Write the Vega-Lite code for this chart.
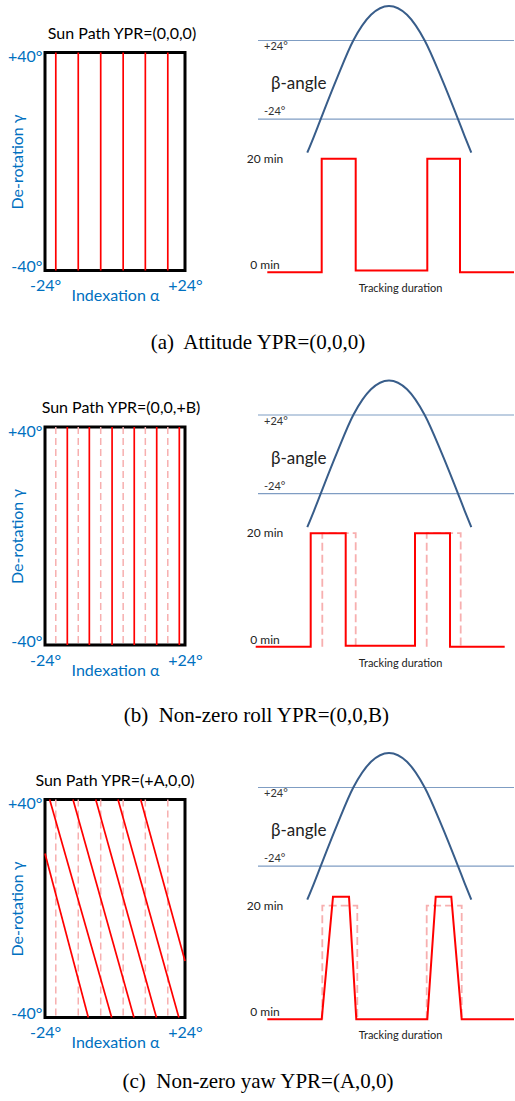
{
  "$schema": "https://vega.github.io/schema/vega-lite/v6.json",
  "padding": {"left": 6, "top": 1.5, "right": 0, "bottom": 0},
  "spacing": 22.5,
  "config": {
    "view": {"stroke": null},
    "font": "Lato",
    "title": {"font": "Lato", "fontSize": 16, "fontWeight": "normal", "color": "#000000", "offset": 7},
    "text": {"font": "Lato"}
  },
  "datasets": {
    "beta": [
      {"t": 49.3, "b": -44.5}, {"t": 56, "b": -34.5}, {"t": 62.7, "b": -24}, {"t": 79, "b": 1},
      {"t": 95.3, "b": 24}, {"t": 113, "b": 39.7}, {"t": 131, "b": 45.1}, {"t": 149, "b": 39.7},
      {"t": 166.7, "b": 24}, {"t": 183.5, "b": 1}, {"t": 200, "b": -24}, {"t": 206.7, "b": -34.5}, {"t": 213.3, "b": -44.5}
    ],
    "betaLevels": [{"t": 6, "b": 24, "label": "+24°"}, {"t": 6, "b": -24, "label": "-24°"}],
    "betaName": [{"t": 13, "b": -2.7, "label": "β-angle"}],
    "minLabels": [{"t": 7, "m": 20, "label": "20 min"}, {"t": 7, "m": 0, "label": "0 min"}],
    "orig": [{"a1": -20.3}, {"a1": -12.6}, {"a1": -4.9}, {"a1": 2.8}, {"a1": 10.4}, {"a1": 18.1}],
    "pathA": [
      {"a1": -20.3, "g1": -40, "a2": -20.3, "g2": 40}, {"a1": -12.6, "g1": -40, "a2": -12.6, "g2": 40},
      {"a1": -4.9, "g1": -40, "a2": -4.9, "g2": 40}, {"a1": 2.8, "g1": -40, "a2": 2.8, "g2": 40},
      {"a1": 10.4, "g1": -40, "a2": 10.4, "g2": 40}, {"a1": 18.1, "g1": -40, "a2": 18.1, "g2": 40}
    ],
    "pathB": [
      {"a1": -16.35, "g1": -40, "a2": -16.35, "g2": 40}, {"a1": -8.8, "g1": -40, "a2": -8.8, "g2": 40},
      {"a1": -1.0, "g1": -40, "a2": -1.0, "g2": 40}, {"a1": 6.6, "g1": -40, "a2": 6.6, "g2": 40},
      {"a1": 14.3, "g1": -40, "a2": 14.3, "g2": 40}, {"a1": 22.05, "g1": -40, "a2": 22.05, "g2": 40}
    ],
    "pathC": [
      {"a1": -24, "g1": 20.2, "a2": -9.15, "g2": -40}, {"a1": -22.4, "g1": 40, "a2": -1.14, "g2": -40},
      {"a1": -14.4, "g1": 40, "a2": 6.5, "g2": -40}, {"a1": -6.6, "g1": 40, "a2": 14.2, "g2": -40},
      {"a1": 1.03, "g1": 40, "a2": 21.9, "g2": -40}, {"a1": 8.8, "g1": 40, "a2": 24, "g2": -19.3}
    ],
    "trackA": [
      {"i": 0, "t": 9.3, "m": 0}, {"i": 1, "t": 63.7, "m": 0}, {"i": 2, "t": 63.7, "m": 20}, {"i": 3, "t": 97.7, "m": 20},
      {"i": 4, "t": 97.7, "m": 0.3}, {"i": 5, "t": 169.3, "m": 0.3}, {"i": 6, "t": 169.3, "m": 20}, {"i": 7, "t": 202, "m": 20},
      {"i": 8, "t": 202, "m": 0}, {"i": 9, "t": 256, "m": 0}
    ],
    "trackB": [
      {"i": 0, "t": -2.3, "m": 0}, {"i": 1, "t": 52.7, "m": 0}, {"i": 2, "t": 52.7, "m": 20}, {"i": 3, "t": 87.7, "m": 20},
      {"i": 4, "t": 87.7, "m": 0.2}, {"i": 5, "t": 157, "m": 0.2}, {"i": 6, "t": 157, "m": 20}, {"i": 7, "t": 192, "m": 20},
      {"i": 8, "t": 192, "m": 0}, {"i": 9, "t": 246.7, "m": 0}
    ],
    "dashB": [
      {"seg": 1, "i": 0, "t": 64.3, "m": 0}, {"seg": 1, "i": 1, "t": 64.3, "m": 20}, {"seg": 1, "i": 2, "t": 97.7, "m": 20}, {"seg": 1, "i": 3, "t": 97.7, "m": 0},
      {"seg": 2, "i": 0, "t": 168.7, "m": 0}, {"seg": 2, "i": 1, "t": 168.7, "m": 20}, {"seg": 2, "i": 2, "t": 202.7, "m": 20}, {"seg": 2, "i": 3, "t": 202.7, "m": 0}
    ],
    "trackC": [
      {"i": 0, "t": 9.3, "m": 0}, {"i": 1, "t": 63.7, "m": 0}, {"i": 2, "t": 75, "m": 21.6}, {"i": 3, "t": 91, "m": 21.6},
      {"i": 4, "t": 98.3, "m": 0}, {"i": 5, "t": 169.3, "m": 0}, {"i": 6, "t": 177.7, "m": 21.6}, {"i": 7, "t": 193.3, "m": 21.6},
      {"i": 8, "t": 203.7, "m": 0}, {"i": 9, "t": 256, "m": 0}
    ],
    "dashC": [
      {"seg": 1, "i": 0, "t": 64.3, "m": 0}, {"seg": 1, "i": 1, "t": 64.3, "m": 20}, {"seg": 1, "i": 2, "t": 99.3, "m": 20}, {"seg": 1, "i": 3, "t": 99.3, "m": 0},
      {"seg": 2, "i": 0, "t": 168.7, "m": 0}, {"seg": 2, "i": 1, "t": 168.7, "m": 20}, {"seg": 2, "i": 2, "t": 203.7, "m": 20}, {"seg": 2, "i": 3, "t": 203.7, "m": 0}
    ]
  },
  "vconcat": [
    {
      "hconcat": [
        {
          "width": 140, "height": 218,
          "view": {"stroke": "#000000", "strokeWidth": 3},
          "title": {"text": "Sun Path YPR=(0,0,0)", "dx": 7},
          "layer": [
            {
              "data": {"name": "pathA"},
              "mark": {"type": "rule", "color": "#FF0000", "strokeWidth": 1.7},
              "encoding": {
                "x": {"field": "a1", "type": "quantitative", "scale": {"domain": [-24, 24], "nice": false, "zero": false},
                  "axis": {"values": [-24, 24], "labelExpr": "datum.value > 0 ? '+24°' : '-24°'", "labelFlush": false, "labelPadding": 7, "labelFontSize": 16, "labelColor": "#0070C0", "labelFont": "Lato", "labelOverlap": false, "title": "Indexation α", "titleFontSize": 16, "titleFont": "Lato", "titleFontWeight": "normal", "titleColor": "#0070C0", "titlePadding": -6, "domain": false, "ticks": false, "grid": false}},
                "y": {"field": "g1", "type": "quantitative", "scale": {"domain": [-40, 40], "nice": false, "zero": false},
                  "axis": {"values": [-40, 40], "labelExpr": "datum.value > 0 ? '+40°' : '-40°'", "labelFlush": true, "labelFlushOffset": 4, "labelPadding": 3, "labelFontSize": 16, "labelColor": "#0070C0", "labelFont": "Lato", "labelOverlap": false, "title": "De-rotation γ", "titleFontSize": 16, "titleFont": "Lato", "titleFontWeight": "normal", "titleColor": "#0070C0", "titlePadding": -18, "domain": false, "ticks": false, "grid": false}},
                "x2": {"field": "a2"},
                "y2": {"field": "g2"}
              }
            }
          ]
        },
        {
          "width": 256, "height": 218,
          "resolve": {"scale": {"y": "independent"}},
          "layer": [
            {"data": {"name": "betaLevels"}, "mark": {"type": "rule", "color": "#7F9DC3", "strokeWidth": 1.2},
              "encoding": {"y": {"field": "b", "type": "quantitative", "scale": {"domain": [-116.46, 16.67], "nice": false, "zero": false}, "axis": null}}},
            {"data": {"name": "betaLevels"}, "transform": [{"filter": "datum.b > 0"}],
              "mark": {"type": "text", "align": "left", "baseline": "top", "dy": 1, "fontSize": 11, "color": "#333333"},
              "encoding": {"x": {"field": "t", "type": "quantitative", "scale": {"domain": [0, 256], "nice": false, "zero": false}, "axis": {"title": "Tracking duration", "titleX": 142, "titlePadding": 12, "titleFontSize": 11, "titleFont": "Lato", "titleFontWeight": "normal", "titleColor": "#222222", "domain": false, "ticks": false, "labels": false, "grid": false}},
                "y": {"field": "b", "type": "quantitative", "scale": {"domain": [-116.46, 16.67], "nice": false, "zero": false}, "axis": null}, "text": {"field": "label"}}},
            {"data": {"name": "betaLevels"}, "transform": [{"filter": "datum.b < 0"}],
              "mark": {"type": "text", "align": "left", "baseline": "bottom", "dy": -2, "fontSize": 11, "color": "#333333"},
              "encoding": {"x": {"field": "t", "type": "quantitative", "scale": {"domain": [0, 256], "nice": false, "zero": false}, "axis": {"title": "Tracking duration", "titleX": 142, "titlePadding": 12, "titleFontSize": 11, "titleFont": "Lato", "titleFontWeight": "normal", "titleColor": "#222222", "domain": false, "ticks": false, "labels": false, "grid": false}},
                "y": {"field": "b", "type": "quantitative", "scale": {"domain": [-116.46, 16.67], "nice": false, "zero": false}, "axis": null}, "text": {"field": "label"}}},
            {"data": {"name": "betaName"},
              "mark": {"type": "text", "align": "left", "baseline": "middle", "fontSize": 17, "color": "#222222"},
              "encoding": {"x": {"field": "t", "type": "quantitative", "scale": {"domain": [0, 256], "nice": false, "zero": false}, "axis": {"title": "Tracking duration", "titleX": 142, "titlePadding": 12, "titleFontSize": 11, "titleFont": "Lato", "titleFontWeight": "normal", "titleColor": "#222222", "domain": false, "ticks": false, "labels": false, "grid": false}},
                "y": {"field": "b", "type": "quantitative", "scale": {"domain": [-116.46, 16.67], "nice": false, "zero": false}, "axis": null}, "text": {"field": "label"}}},
            {"data": {"name": "beta"},
              "mark": {"type": "line", "color": "#385D8A", "strokeWidth": 2, "interpolate": "monotone"},
              "encoding": {"x": {"field": "t", "type": "quantitative", "scale": {"domain": [0, 256], "nice": false, "zero": false}, "axis": {"title": "Tracking duration", "titleX": 142, "titlePadding": 12, "titleFontSize": 11, "titleFont": "Lato", "titleFontWeight": "normal", "titleColor": "#222222", "domain": false, "ticks": false, "labels": false, "grid": false}},
                "y": {"field": "b", "type": "quantitative", "scale": {"domain": [-116.46, 16.67], "nice": false, "zero": false}, "axis": null}}},
            {"data": {"name": "trackA"},
              "mark": {"type": "line", "color": "#FF0000", "strokeWidth": 2},
              "encoding": {"x": {"field": "t", "type": "quantitative", "scale": {"domain": [0, 256], "nice": false, "zero": false}, "axis": {"title": "Tracking duration", "titleX": 142, "titlePadding": 12, "titleFontSize": 11, "titleFont": "Lato", "titleFontWeight": "normal", "titleColor": "#222222", "domain": false, "ticks": false, "labels": false, "grid": false}},
                "y": {"field": "m", "type": "quantitative", "scale": {"domain": [0.32, 38.7], "nice": false, "zero": false}, "axis": null},
                "order": {"field": "i", "type": "quantitative"}}},
            {"data": {"name": "minLabels"}, "transform": [{"filter": "datum.m > 0"}],
              "mark": {"type": "text", "align": "center", "baseline": "middle", "fontSize": 12, "color": "#222222"},
              "encoding": {"x": {"field": "t", "type": "quantitative", "scale": {"domain": [0, 256], "nice": false, "zero": false}, "axis": {"title": "Tracking duration", "titleX": 142, "titlePadding": 12, "titleFontSize": 11, "titleFont": "Lato", "titleFontWeight": "normal", "titleColor": "#222222", "domain": false, "ticks": false, "labels": false, "grid": false}},
                "y": {"field": "m", "type": "quantitative", "scale": {"domain": [0.32, 38.7], "nice": false, "zero": false}, "axis": null}, "text": {"field": "label"}}},
            {"data": {"name": "minLabels"}, "transform": [{"filter": "datum.m == 0"}],
              "mark": {"type": "text", "align": "center", "baseline": "alphabetic", "dy": -3, "fontSize": 12, "color": "#222222"},
              "encoding": {"x": {"field": "t", "type": "quantitative", "scale": {"domain": [0, 256], "nice": false, "zero": false}, "axis": {"title": "Tracking duration", "titleX": 142, "titlePadding": 12, "titleFontSize": 11, "titleFont": "Lato", "titleFontWeight": "normal", "titleColor": "#222222", "domain": false, "ticks": false, "labels": false, "grid": false}},
                "y": {"field": "m", "type": "quantitative", "scale": {"domain": [0.32, 38.7], "nice": false, "zero": false}, "axis": null}, "text": {"field": "label"}}}
          ]
        }
      ],
      "spacing": 73,
      "bounds": "flush",
      "title": {"text": "(a)\u00a0 Attitude YPR=(0,0,0)", "orient": "bottom", "anchor": "middle", "font": "Liberation Serif", "fontSize": 21, "fontWeight": "normal", "color": "#000000", "offset": 27, "dx": -4}
    },
    {
      "hconcat": [
        {
          "width": 140, "height": 218,
          "view": {"stroke": "#000000", "strokeWidth": 3},
          "title": {"text": "Sun Path YPR=(0,0,+B)", "dx": 6},
          "layer": [
            {
              "data": {"name": "orig"},
              "mark": {"type": "rule", "color": "#F7AFAF", "strokeWidth": 1.5, "strokeDash": [7, 4]},
              "encoding": {
                "x": {"field": "a1", "type": "quantitative", "scale": {"domain": [-24, 24], "nice": false, "zero": false},
                  "axis": {"values": [-24, 24], "labelExpr": "datum.value > 0 ? '+24°' : '-24°'", "labelFlush": false, "labelPadding": 7, "labelFontSize": 16, "labelColor": "#0070C0", "labelFont": "Lato", "labelOverlap": false, "title": "Indexation α", "titleFontSize": 16, "titleFont": "Lato", "titleFontWeight": "normal", "titleColor": "#0070C0", "titlePadding": -6, "domain": false, "ticks": false, "grid": false}}
              }
            },
            {
              "data": {"name": "pathB"},
              "mark": {"type": "rule", "color": "#FF0000", "strokeWidth": 1.7},
              "encoding": {
                "x": {"field": "a1", "type": "quantitative", "scale": {"domain": [-24, 24], "nice": false, "zero": false},
                  "axis": {"values": [-24, 24], "labelExpr": "datum.value > 0 ? '+24°' : '-24°'", "labelFlush": false, "labelPadding": 7, "labelFontSize": 16, "labelColor": "#0070C0", "labelFont": "Lato", "labelOverlap": false, "title": "Indexation α", "titleFontSize": 16, "titleFont": "Lato", "titleFontWeight": "normal", "titleColor": "#0070C0", "titlePadding": -6, "domain": false, "ticks": false, "grid": false}},
                "y": {"field": "g1", "type": "quantitative", "scale": {"domain": [-40, 40], "nice": false, "zero": false},
                  "axis": {"values": [-40, 40], "labelExpr": "datum.value > 0 ? '+40°' : '-40°'", "labelFlush": true, "labelFlushOffset": 4, "labelPadding": 3, "labelFontSize": 16, "labelColor": "#0070C0", "labelFont": "Lato", "labelOverlap": false, "title": "De-rotation γ", "titleFontSize": 16, "titleFont": "Lato", "titleFontWeight": "normal", "titleColor": "#0070C0", "titlePadding": -18, "domain": false, "ticks": false, "grid": false}},
                "x2": {"field": "a2"},
                "y2": {"field": "g2"}
              }
            }
          ]
        },
        {
          "width": 256, "height": 218,
          "resolve": {"scale": {"y": "independent"}},
          "layer": [
            {"data": {"name": "betaLevels"}, "mark": {"type": "rule", "color": "#7F9DC3", "strokeWidth": 1.2},
              "encoding": {"y": {"field": "b", "type": "quantitative", "scale": {"domain": [-116.46, 16.67], "nice": false, "zero": false}, "axis": null}}},
            {"data": {"name": "betaLevels"}, "transform": [{"filter": "datum.b > 0"}],
              "mark": {"type": "text", "align": "left", "baseline": "top", "dy": 1, "fontSize": 11, "color": "#333333"},
              "encoding": {"x": {"field": "t", "type": "quantitative", "scale": {"domain": [0, 256], "nice": false, "zero": false}, "axis": {"title": "Tracking duration", "titleX": 142, "titlePadding": 12, "titleFontSize": 11, "titleFont": "Lato", "titleFontWeight": "normal", "titleColor": "#222222", "domain": false, "ticks": false, "labels": false, "grid": false}},
                "y": {"field": "b", "type": "quantitative", "scale": {"domain": [-116.46, 16.67], "nice": false, "zero": false}, "axis": null}, "text": {"field": "label"}}},
            {"data": {"name": "betaLevels"}, "transform": [{"filter": "datum.b < 0"}],
              "mark": {"type": "text", "align": "left", "baseline": "bottom", "dy": -2, "fontSize": 11, "color": "#333333"},
              "encoding": {"x": {"field": "t", "type": "quantitative", "scale": {"domain": [0, 256], "nice": false, "zero": false}, "axis": {"title": "Tracking duration", "titleX": 142, "titlePadding": 12, "titleFontSize": 11, "titleFont": "Lato", "titleFontWeight": "normal", "titleColor": "#222222", "domain": false, "ticks": false, "labels": false, "grid": false}},
                "y": {"field": "b", "type": "quantitative", "scale": {"domain": [-116.46, 16.67], "nice": false, "zero": false}, "axis": null}, "text": {"field": "label"}}},
            {"data": {"name": "betaName"},
              "mark": {"type": "text", "align": "left", "baseline": "middle", "fontSize": 17, "color": "#222222"},
              "encoding": {"x": {"field": "t", "type": "quantitative", "scale": {"domain": [0, 256], "nice": false, "zero": false}, "axis": {"title": "Tracking duration", "titleX": 142, "titlePadding": 12, "titleFontSize": 11, "titleFont": "Lato", "titleFontWeight": "normal", "titleColor": "#222222", "domain": false, "ticks": false, "labels": false, "grid": false}},
                "y": {"field": "b", "type": "quantitative", "scale": {"domain": [-116.46, 16.67], "nice": false, "zero": false}, "axis": null}, "text": {"field": "label"}}},
            {"data": {"name": "beta"},
              "mark": {"type": "line", "color": "#385D8A", "strokeWidth": 2, "interpolate": "monotone"},
              "encoding": {"x": {"field": "t", "type": "quantitative", "scale": {"domain": [0, 256], "nice": false, "zero": false}, "axis": {"title": "Tracking duration", "titleX": 142, "titlePadding": 12, "titleFontSize": 11, "titleFont": "Lato", "titleFontWeight": "normal", "titleColor": "#222222", "domain": false, "ticks": false, "labels": false, "grid": false}},
                "y": {"field": "b", "type": "quantitative", "scale": {"domain": [-116.46, 16.67], "nice": false, "zero": false}, "axis": null}}},
            {"data": {"name": "dashB"},
              "mark": {"type": "line", "color": "#F7AFAF", "strokeWidth": 1.8, "strokeDash": [8, 4]},
              "encoding": {"x": {"field": "t", "type": "quantitative", "scale": {"domain": [0, 256], "nice": false, "zero": false}, "axis": {"title": "Tracking duration", "titleX": 142, "titlePadding": 12, "titleFontSize": 11, "titleFont": "Lato", "titleFontWeight": "normal", "titleColor": "#222222", "domain": false, "ticks": false, "labels": false, "grid": false}},
                "y": {"field": "m", "type": "quantitative", "scale": {"domain": [0.32, 38.7], "nice": false, "zero": false}, "axis": null},
                "detail": {"field": "seg", "type": "nominal"},
                "order": {"field": "i", "type": "quantitative"}}},
            {"data": {"name": "trackB"},
              "mark": {"type": "line", "color": "#FF0000", "strokeWidth": 2},
              "encoding": {"x": {"field": "t", "type": "quantitative", "scale": {"domain": [0, 256], "nice": false, "zero": false}, "axis": {"title": "Tracking duration", "titleX": 142, "titlePadding": 12, "titleFontSize": 11, "titleFont": "Lato", "titleFontWeight": "normal", "titleColor": "#222222", "domain": false, "ticks": false, "labels": false, "grid": false}},
                "y": {"field": "m", "type": "quantitative", "scale": {"domain": [0.32, 38.7], "nice": false, "zero": false}, "axis": null},
                "order": {"field": "i", "type": "quantitative"}}},
            {"data": {"name": "minLabels"}, "transform": [{"filter": "datum.m > 0"}],
              "mark": {"type": "text", "align": "center", "baseline": "middle", "fontSize": 12, "color": "#222222"},
              "encoding": {"x": {"field": "t", "type": "quantitative", "scale": {"domain": [0, 256], "nice": false, "zero": false}, "axis": {"title": "Tracking duration", "titleX": 142, "titlePadding": 12, "titleFontSize": 11, "titleFont": "Lato", "titleFontWeight": "normal", "titleColor": "#222222", "domain": false, "ticks": false, "labels": false, "grid": false}},
                "y": {"field": "m", "type": "quantitative", "scale": {"domain": [0.32, 38.7], "nice": false, "zero": false}, "axis": null}, "text": {"field": "label"}}},
            {"data": {"name": "minLabels"}, "transform": [{"filter": "datum.m == 0"}],
              "mark": {"type": "text", "align": "center", "baseline": "alphabetic", "dy": -3, "fontSize": 12, "color": "#222222"},
              "encoding": {"x": {"field": "t", "type": "quantitative", "scale": {"domain": [0, 256], "nice": false, "zero": false}, "axis": {"title": "Tracking duration", "titleX": 142, "titlePadding": 12, "titleFontSize": 11, "titleFont": "Lato", "titleFontWeight": "normal", "titleColor": "#222222", "domain": false, "ticks": false, "labels": false, "grid": false}},
                "y": {"field": "m", "type": "quantitative", "scale": {"domain": [0.32, 38.7], "nice": false, "zero": false}, "axis": null}, "text": {"field": "label"}}}
          ]
        }
      ],
      "spacing": 73,
      "bounds": "flush",
      "title": {"text": "(b)\u00a0 Non-zero roll YPR=(0,0,B)", "orient": "bottom", "anchor": "middle", "font": "Liberation Serif", "fontSize": 21, "fontWeight": "normal", "color": "#000000", "offset": 25, "dx": -4}
    },
    {
      "hconcat": [
        {
          "width": 140, "height": 218,
          "view": {"stroke": "#000000", "strokeWidth": 3},
          "title": {"text": "Sun Path YPR=(+A,0,0)", "dx": 0},
          "layer": [
            {
              "data": {"name": "orig"},
              "mark": {"type": "rule", "color": "#F7AFAF", "strokeWidth": 1.5, "strokeDash": [7, 4]},
              "encoding": {
                "x": {"field": "a1", "type": "quantitative", "scale": {"domain": [-24, 24], "nice": false, "zero": false},
                  "axis": {"values": [-24, 24], "labelExpr": "datum.value > 0 ? '+24°' : '-24°'", "labelFlush": false, "labelPadding": 7, "labelFontSize": 16, "labelColor": "#0070C0", "labelFont": "Lato", "labelOverlap": false, "title": "Indexation α", "titleFontSize": 16, "titleFont": "Lato", "titleFontWeight": "normal", "titleColor": "#0070C0", "titlePadding": -6, "domain": false, "ticks": false, "grid": false}}
              }
            },
            {
              "data": {"name": "pathC"},
              "mark": {"type": "rule", "color": "#FF0000", "strokeWidth": 1.7},
              "encoding": {
                "x": {"field": "a1", "type": "quantitative", "scale": {"domain": [-24, 24], "nice": false, "zero": false},
                  "axis": {"values": [-24, 24], "labelExpr": "datum.value > 0 ? '+24°' : '-24°'", "labelFlush": false, "labelPadding": 7, "labelFontSize": 16, "labelColor": "#0070C0", "labelFont": "Lato", "labelOverlap": false, "title": "Indexation α", "titleFontSize": 16, "titleFont": "Lato", "titleFontWeight": "normal", "titleColor": "#0070C0", "titlePadding": -6, "domain": false, "ticks": false, "grid": false}},
                "y": {"field": "g1", "type": "quantitative", "scale": {"domain": [-40, 40], "nice": false, "zero": false},
                  "axis": {"values": [-40, 40], "labelExpr": "datum.value > 0 ? '+40°' : '-40°'", "labelFlush": true, "labelFlushOffset": 4, "labelPadding": 3, "labelFontSize": 16, "labelColor": "#0070C0", "labelFont": "Lato", "labelOverlap": false, "title": "De-rotation γ", "titleFontSize": 16, "titleFont": "Lato", "titleFontWeight": "normal", "titleColor": "#0070C0", "titlePadding": -18, "domain": false, "ticks": false, "grid": false}},
                "x2": {"field": "a2"},
                "y2": {"field": "g2"}
              }
            }
          ]
        },
        {
          "width": 256, "height": 218,
          "resolve": {"scale": {"y": "independent"}},
          "layer": [
            {"data": {"name": "betaLevels"}, "mark": {"type": "rule", "color": "#7F9DC3", "strokeWidth": 1.2},
              "encoding": {"y": {"field": "b", "type": "quantitative", "scale": {"domain": [-116.46, 16.67], "nice": false, "zero": false}, "axis": null}}},
            {"data": {"name": "betaLevels"}, "transform": [{"filter": "datum.b > 0"}],
              "mark": {"type": "text", "align": "left", "baseline": "top", "dy": 1, "fontSize": 11, "color": "#333333"},
              "encoding": {"x": {"field": "t", "type": "quantitative", "scale": {"domain": [0, 256], "nice": false, "zero": false}, "axis": {"title": "Tracking duration", "titleX": 142, "titlePadding": 12, "titleFontSize": 11, "titleFont": "Lato", "titleFontWeight": "normal", "titleColor": "#222222", "domain": false, "ticks": false, "labels": false, "grid": false}},
                "y": {"field": "b", "type": "quantitative", "scale": {"domain": [-116.46, 16.67], "nice": false, "zero": false}, "axis": null}, "text": {"field": "label"}}},
            {"data": {"name": "betaLevels"}, "transform": [{"filter": "datum.b < 0"}],
              "mark": {"type": "text", "align": "left", "baseline": "bottom", "dy": -2, "fontSize": 11, "color": "#333333"},
              "encoding": {"x": {"field": "t", "type": "quantitative", "scale": {"domain": [0, 256], "nice": false, "zero": false}, "axis": {"title": "Tracking duration", "titleX": 142, "titlePadding": 12, "titleFontSize": 11, "titleFont": "Lato", "titleFontWeight": "normal", "titleColor": "#222222", "domain": false, "ticks": false, "labels": false, "grid": false}},
                "y": {"field": "b", "type": "quantitative", "scale": {"domain": [-116.46, 16.67], "nice": false, "zero": false}, "axis": null}, "text": {"field": "label"}}},
            {"data": {"name": "betaName"},
              "mark": {"type": "text", "align": "left", "baseline": "middle", "fontSize": 17, "color": "#222222"},
              "encoding": {"x": {"field": "t", "type": "quantitative", "scale": {"domain": [0, 256], "nice": false, "zero": false}, "axis": {"title": "Tracking duration", "titleX": 142, "titlePadding": 12, "titleFontSize": 11, "titleFont": "Lato", "titleFontWeight": "normal", "titleColor": "#222222", "domain": false, "ticks": false, "labels": false, "grid": false}},
                "y": {"field": "b", "type": "quantitative", "scale": {"domain": [-116.46, 16.67], "nice": false, "zero": false}, "axis": null}, "text": {"field": "label"}}},
            {"data": {"name": "beta"},
              "mark": {"type": "line", "color": "#385D8A", "strokeWidth": 2, "interpolate": "monotone"},
              "encoding": {"x": {"field": "t", "type": "quantitative", "scale": {"domain": [0, 256], "nice": false, "zero": false}, "axis": {"title": "Tracking duration", "titleX": 142, "titlePadding": 12, "titleFontSize": 11, "titleFont": "Lato", "titleFontWeight": "normal", "titleColor": "#222222", "domain": false, "ticks": false, "labels": false, "grid": false}},
                "y": {"field": "b", "type": "quantitative", "scale": {"domain": [-116.46, 16.67], "nice": false, "zero": false}, "axis": null}}},
            {"data": {"name": "dashC"},
              "mark": {"type": "line", "color": "#F7AFAF", "strokeWidth": 1.8, "strokeDash": [8, 4]},
              "encoding": {"x": {"field": "t", "type": "quantitative", "scale": {"domain": [0, 256], "nice": false, "zero": false}, "axis": {"title": "Tracking duration", "titleX": 142, "titlePadding": 12, "titleFontSize": 11, "titleFont": "Lato", "titleFontWeight": "normal", "titleColor": "#222222", "domain": false, "ticks": false, "labels": false, "grid": false}},
                "y": {"field": "m", "type": "quantitative", "scale": {"domain": [0.32, 38.7], "nice": false, "zero": false}, "axis": null},
                "detail": {"field": "seg", "type": "nominal"},
                "order": {"field": "i", "type": "quantitative"}}},
            {"data": {"name": "trackC"},
              "mark": {"type": "line", "color": "#FF0000", "strokeWidth": 2},
              "encoding": {"x": {"field": "t", "type": "quantitative", "scale": {"domain": [0, 256], "nice": false, "zero": false}, "axis": {"title": "Tracking duration", "titleX": 142, "titlePadding": 12, "titleFontSize": 11, "titleFont": "Lato", "titleFontWeight": "normal", "titleColor": "#222222", "domain": false, "ticks": false, "labels": false, "grid": false}},
                "y": {"field": "m", "type": "quantitative", "scale": {"domain": [0.32, 38.7], "nice": false, "zero": false}, "axis": null},
                "order": {"field": "i", "type": "quantitative"}}},
            {"data": {"name": "minLabels"}, "transform": [{"filter": "datum.m > 0"}],
              "mark": {"type": "text", "align": "center", "baseline": "middle", "fontSize": 12, "color": "#222222"},
              "encoding": {"x": {"field": "t", "type": "quantitative", "scale": {"domain": [0, 256], "nice": false, "zero": false}, "axis": {"title": "Tracking duration", "titleX": 142, "titlePadding": 12, "titleFontSize": 11, "titleFont": "Lato", "titleFontWeight": "normal", "titleColor": "#222222", "domain": false, "ticks": false, "labels": false, "grid": false}},
                "y": {"field": "m", "type": "quantitative", "scale": {"domain": [0.32, 38.7], "nice": false, "zero": false}, "axis": null}, "text": {"field": "label"}}},
            {"data": {"name": "minLabels"}, "transform": [{"filter": "datum.m == 0"}],
              "mark": {"type": "text", "align": "center", "baseline": "alphabetic", "dy": -3, "fontSize": 12, "color": "#222222"},
              "encoding": {"x": {"field": "t", "type": "quantitative", "scale": {"domain": [0, 256], "nice": false, "zero": false}, "axis": {"title": "Tracking duration", "titleX": 142, "titlePadding": 12, "titleFontSize": 11, "titleFont": "Lato", "titleFontWeight": "normal", "titleColor": "#222222", "domain": false, "ticks": false, "labels": false, "grid": false}},
                "y": {"field": "m", "type": "quantitative", "scale": {"domain": [0.32, 38.7], "nice": false, "zero": false}, "axis": null}, "text": {"field": "label"}}}
          ]
        }
      ],
      "spacing": 73,
      "bounds": "flush",
      "title": {"text": "(c)\u00a0 Non-zero yaw YPR=(A,0,0)", "orient": "bottom", "anchor": "middle", "font": "Liberation Serif", "fontSize": 21, "fontWeight": "normal", "color": "#000000", "offset": 19, "dx": -4}
    }
  ]
}
